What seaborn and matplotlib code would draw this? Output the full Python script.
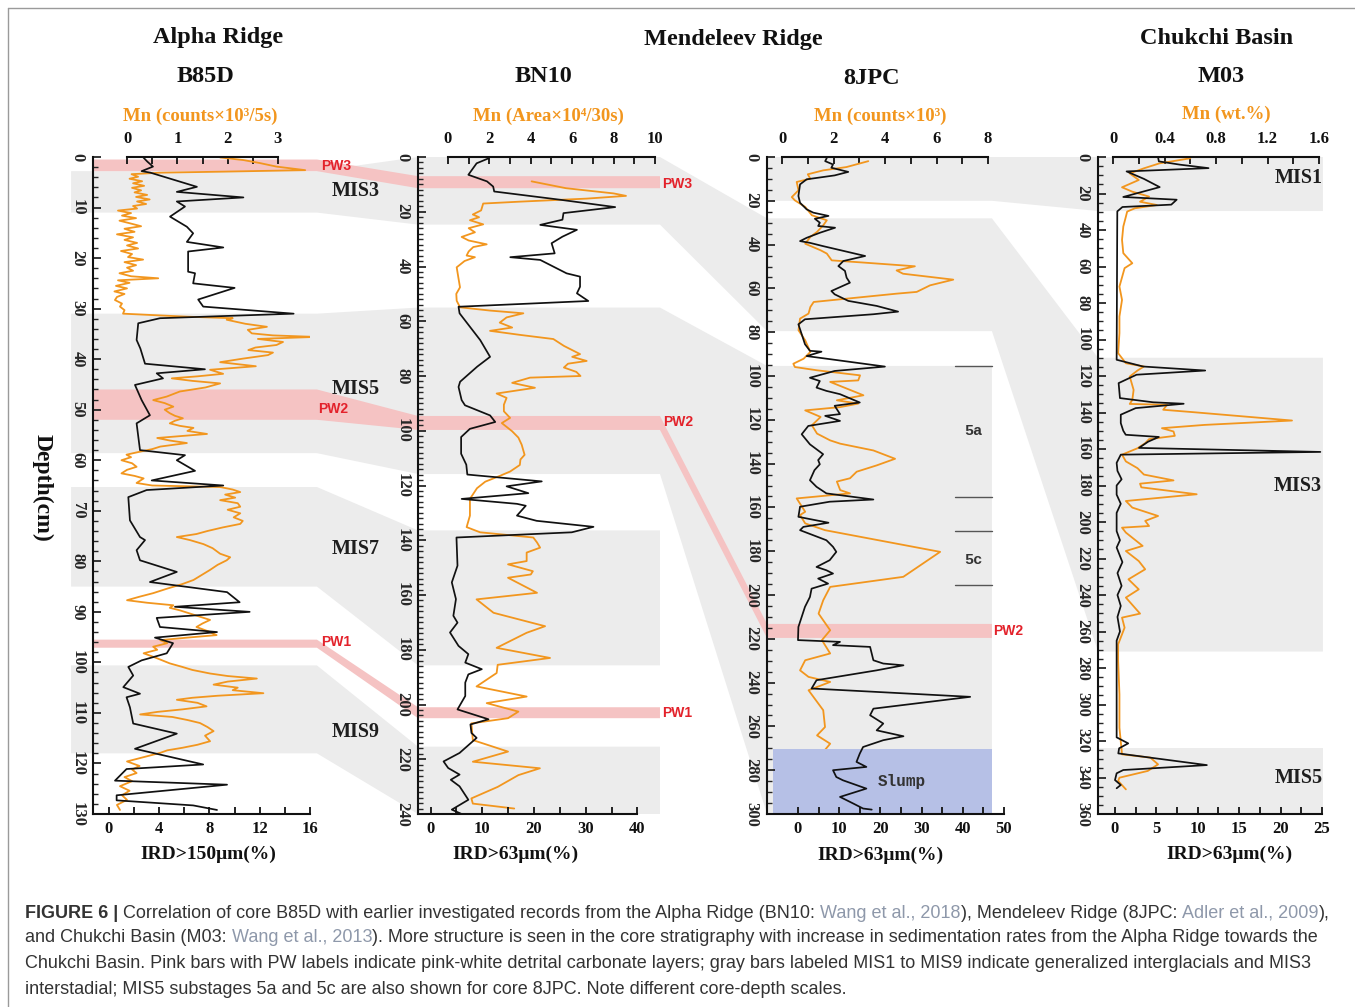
import numpy as np
import pandas as pd
import matplotlib
matplotlib.use("Agg")
import matplotlib.pyplot as plt
import matplotlib.transforms as mtransforms
from matplotlib.patches import Polygon
from matplotlib.ticker import FixedLocator, FuncFormatter
from matplotlib.font_manager import FontProperties, fontManager
import seaborn as sns

sns.set_style("ticks")
plt.rcParams["font.family"] = ["Liberation Serif", "DejaVu Serif"]
plt.rcParams["font.weight"] = "bold"
plt.rcParams["axes.unicode_minus"] = False

# ---------------------------------------------------------------- data
# B85D (Alpha Ridge)
b85d_ird_depth = [0, 0.9, 1.9, 2.8, 3.1, 5.9, 6.9, 8.0, 8.8, 9.8, 11.8, 13.8, 15.1, 16.8, 17.9,
                  18.7, 22.7, 23.0, 25.0, 25.9, 28.2, 29.6, 31.0, 31.9, 32.9, 36.2, 37.9, 40.9,
                  42.0, 42.8, 43.8, 45.1, 48.1, 51.1, 52.7, 58.0, 59.0, 60.0, 62.1, 64.0, 65.0,
                  65.9, 67.3, 71.9, 75.2, 75.8, 77.8, 79.8, 82.1, 84.1, 86.1, 88.1, 89.0, 90.0,
                  91.2, 93.0, 94.0, 95.1, 96.2, 98.2, 99.6, 100.9, 102.6, 104.9, 106.2, 106.9,
                  108.9, 112.1, 114.1, 117.1, 120.2, 121.1, 123.4, 124.2, 126.3, 127.3, 128.3, 129.2]
b85d_ird = [2.7, 3.05, 3.5, 2.6, 3.3, 7.0, 5.4, 10.7, 5.4, 6.05, 4.86, 6.2, 6.7, 6.2, 9.1,
            6.3, 6.3, 6.85, 6.7, 10.0, 7.1, 7.5, 14.7, 4.06, 2.33, 2.2, 2.5, 2.87,
            7.64, 3.8, 4.3, 2.07, 2.6, 3.26, 2.2, 2.47, 6.05, 5.4, 6.85, 3.4, 9.1,
            3.0, 1.54, 1.67, 2.47, 2.87, 2.2, 2.47, 5.4, 3.26, 9.4, 10.4, 5.25, 11.2,
            3.8, 4.06, 8.6, 3.66, 5.1, 4.6, 2.6, 1.54, 1.93, 1.14, 2.47, 1.4,
            1.67, 1.93, 5.4, 2.07, 7.5, 1.4, 0.48, 9.4, 0.61, 0.61, 6.7, 8.6]
b85d_mn_depth = [0.1, 0.6, 1.2, 1.9, 2.6, 2.9, 3.1, 3.4, 3.9, 4.3, 4.8, 5.2, 5.7, 6.1, 6.6, 7.0,
                 7.5, 7.9, 8.4, 8.8, 9.3, 9.7, 10.2, 10.6, 11.1, 11.6, 12.1, 12.6, 13.1, 13.7,
                 14.2, 14.8, 15.3, 15.9, 16.4, 17.0, 17.5, 18.1, 18.6, 19.2, 19.8, 20.3, 20.8,
                 21.4, 21.9, 22.5, 23.0, 23.6, 24.0, 24.4, 24.9, 25.5, 26.0, 26.6, 27.1, 27.7,
                 28.3, 29.0, 29.6, 30.3, 31.0, 31.6, 31.9, 32.2, 33.0, 33.6, 34.2, 34.9, 35.3,
                 35.6, 36.0, 36.6, 37.2, 37.7, 38.2, 38.7, 39.2, 39.9, 40.6, 41.0, 41.4, 42.1,
                 42.9, 43.4, 43.8, 44.3, 44.8, 45.6, 46.0, 46.4, 47.4, 48.1, 48.7, 49.4, 50.0,
                 50.7, 51.2, 51.7, 52.2, 52.7, 53.2, 53.6, 54.2, 54.8, 55.2, 55.6, 56.1, 56.6,
                 57.3, 57.8, 58.3, 58.9, 59.4, 60.0, 60.6, 61.3, 61.9, 62.6, 63.1, 63.6, 64.5,
                 65.0, 65.3, 65.8, 66.3, 66.8, 67.4, 67.9, 68.5, 69.2, 69.8, 70.5, 71.3, 72.0,
                 72.6, 73.3, 74.0, 74.6, 75.2, 75.8, 76.6, 77.4, 78.5, 79.2, 79.8, 80.7, 81.7,
                 82.6, 83.7, 84.5, 85.4, 86.3, 87.0, 87.7, 88.2, 88.7, 89.2, 89.7, 90.5, 91.0,
                 91.6, 92.3, 93.0, 93.8, 94.6, 95.1, 95.6, 96.2, 96.9, 97.5, 98.2, 99.0, 99.6,
                 100.2, 100.9, 101.5, 102.2, 102.7, 103.2, 103.8, 104.4, 105.0, 105.5, 106.1,
                 106.6, 107.0, 107.4, 108.0, 108.7, 109.3, 109.8, 110.3, 110.8, 111.4, 112.0,
                 112.8, 113.6, 114.5, 115.6, 116.3, 116.9, 117.4, 117.9, 118.7, 119.6, 120.5,
                 121.2, 121.9, 122.7, 123.5, 124.5, 125.4, 126.3, 127.2, 128.2, 129.2]
b85d_mn = [1.85, 2.31, 2.64, 2.97, 3.54, 1.9, 0.66, 0.09, 0.22, 0.05, 0.30, 0.12, 0.34, 0.10, 0.28, 0.15,
           0.40, 0.18, 0.45, 0.20, 0.38, 0.12, 0.20, -0.18, 0.08, -0.10, 0.18, -0.15, 0.05, 0.28,
           -0.05, 0.15, -0.20, 0.12, -0.05, 0.20, 0.00, 0.22, -0.12, 0.10, 0.02, 0.32, -0.05,
           0.18, 0.00, 0.12, -0.15, 0.08, 0.62, -0.18, 0.05, -0.22, 0.00, -0.25, -0.05, -0.20,
           -0.24, -0.10, -0.14, -0.05, -0.08, 1.2, 2.10, 1.98, 2.35, 2.78, 2.40, 2.48, 2.90,
           3.74, 2.60, 3.10, 2.97, 2.55, 2.41, 2.90, 2.80, 2.30, 1.85, 2.20, 2.56, 1.65,
           1.91, 1.40, 0.89, 1.30, 1.85, 1.56, 1.30, 1.05, 0.79, 0.52, 0.75, 0.92, 0.75,
           0.85, 0.95, 1.11, 0.95, 0.85, 1.05, 1.32, 1.20, 1.59, 1.10, 0.60, 0.85, 1.19,
           0.66, 0.50, 0.26, -0.01, 0.08, -0.11, 0.10, 0.19, 0.00, -0.11, 0.15, 0.33, 0.19,
           0.50, 1.85, 2.10, 2.25, 1.95, 2.15, 1.85, 2.20, 2.25, 2.00, 2.25, 2.12, 2.30,
           2.25, 1.90, 1.60, 1.38, 0.99, 1.25, 1.52, 1.70, 1.85, 2.05, 1.98, 1.80, 1.65,
           1.50, 1.32, 1.10, 0.80, 0.52, 0.25, 0.00, 0.40, 0.92, 0.85, 1.05, 1.30, 1.45,
           1.65, 1.50, 1.38, 1.60, 1.78, 1.20, 0.66, 0.80, 0.52, 0.60, 0.33, 0.55, 0.70,
           0.85, 1.10, 1.30, 1.65, 2.00, 2.58, 2.00, 1.72, 2.20, 2.10, 2.71,
           1.80, 1.30, 0.99, 1.40, 1.58, 1.10, 0.60, 0.26, 0.90, 1.20, 1.45,
           1.60, 1.72, 1.55, 1.65, 1.40, 1.10, 0.80, 0.66, 0.35, 0.00, 0.25,
           0.10, 0.19, -0.05, 0.10, -0.14, 0.05, -0.10, 0.00, -0.20, -0.14]

# BN10 (Alpha Ridge)
bn10_ird_depth = [0.5, 2.3, 6.5, 8.9, 10.8, 12.6, 15.6, 18.3, 20.5, 22.9, 24.8, 26.6, 29.1, 31.5,
                  35.2, 36.6, 37.6, 42.5, 43.7, 47.4, 49.8, 52.6, 54.7, 57.1, 62.0, 66.9, 73.0,
                  76.6, 82.1, 84.0, 88.8, 90.7, 94.4, 96.8, 99.3, 102.3, 108.4, 112.4, 116.0,
                  118.5, 120.3, 122.8, 124.9, 126.7, 127.4, 131.0, 132.9, 135.1, 137.1, 139.0,
                  149.3, 155.4, 161.5, 167.6, 170.1, 173.7, 178.6, 181.6, 184.7, 187.1, 189.0,
                  192.0, 196.9, 201.8, 205.4, 207.3, 210.4, 212.2, 217.7, 220.8, 223.2, 225.6,
                  227.5, 229.9, 234.8, 238.4, 240.0]
bn10_ird = [11.2, 8.9, 7.3, 10.9, 12.1, 12.3, 25.0, 35.7, 25.7, 25.5, 21.2, 28.3, 25.5, 23.4,
            24.0, 15.4, 21.2, 26.3, 28.9, 28.9, 28.3, 30.5, 5.4, 5.6, 7.6, 9.6, 11.5,
            9.0, 5.7, 5.4, 6.0, 6.65, 11.5, 12.5, 7.6, 5.9, 5.9, 6.9, 7.1,
            21.5, 14.7, 18.9, 6.0, 16.7, 18.4, 16.7, 20.5, 31.5, 27.3, 5.0,
            5.2, 4.1, 4.9, 4.4, 5.2, 3.75, 5.4, 7.3, 6.7, 9.9, 7.3,
            6.7, 6.7, 5.2, 11.2, 7.7, 7.9, 8.9, 5.6, 2.5, 3.4, 5.6,
            3.9, 5.6, 7.3, 4.1, 6.0]
bn10_mn_depth = [8.9, 11.4, 13.3, 14.2, 15.2, 16.3, 17.0, 19.5, 21.0, 22.0, 23.1, 24.6, 26.0, 27.5,
                 29.2, 30.5, 31.9, 32.9, 34.5, 36.0, 36.6, 38.0, 40.3, 44.0, 47.6, 50.0, 52.5,
                 54.9, 56.1, 57.1, 58.6, 60.5, 62.3, 63.5, 65.0, 66.5, 69.0, 72.0, 73.0, 74.5,
                 75.5, 76.9, 78.5, 80.0, 80.6, 82.5, 84.3, 86.4, 88.0, 90.5, 92.9, 95.3, 97.2,
                 100.2, 102.5, 105.1, 108.8, 110.5, 112.5, 114.9, 116.5, 118.6, 121.0, 124.9,
                 131.0, 135.2, 137.1, 139.0, 140.8, 142.7, 144.5, 147.6, 148.8, 151.3, 152.5,
                 153.7, 159.2, 161.6, 166.5, 171.4, 173.8, 179.3, 183.0, 185.5, 188.5, 193.4,
                 197.1, 199.5, 202.6, 205.0, 206.9, 213.0, 217.2, 220.9, 223.3, 225.8, 230.1,
                 234.3, 236.2, 238.0]
bn10_mn = [4.04, 5.7, 8.0, 8.6, 6.7, 3.5, 1.7, 1.6, 1.2, 1.5, 1.06, 1.7, 1.0, 1.3,
           0.66, 1.0, 1.87, 1.22, 1.0, 0.9, 1.3, 0.8, 0.42, 0.5, 0.58, 0.4, 0.42,
           0.58, 2.03, 3.64, 2.83, 2.5, 3.1, 2.03, 3.5, 5.09, 5.6, 6.38, 6.0, 6.7,
           5.8, 5.6, 6.2, 6.4, 3.96, 3.1, 4.2, 2.35, 2.83, 2.7, 2.7, 3.0, 2.6,
           3.1, 3.4, 3.56, 3.7, 3.5, 3.47, 3.0, 2.5, 1.8, 1.4, 1.06,
           1.06, 0.9, 1.55, 4.12, 4.3, 4.45, 3.8, 3.8, 2.9, 4.1, 4.0,
           2.9, 4.3, 1.38, 2.2, 4.69, 3.8, 2.35, 4.93, 2.4, 2.35, 1.38,
           3.8, 1.87, 3.4, 2.9, 1.13, 1.2, 2.9, 1.2, 4.44, 3.4, 2.4,
           1.13, 1.2, 3.2]

# 8JPC (Mendeleev Ridge)
jpc8_ird_depth = [0.4, 1.9, 3.4, 4.9, 6.8, 8.4, 10.2, 12.5, 17.8, 20.9, 23.9, 25.4, 26.9, 28.2,
                  30.0, 31.5, 32.3, 34.6, 36.9, 38.4, 39.2, 40.7, 45.2, 47.5, 49.8, 52.0, 55.1,
                  57.4, 61.2, 62.7, 65.7, 68.0, 70.6, 71.8, 74.1, 76.4, 80.9, 85.5, 88.5, 88.9,
                  90.9, 92.4, 95.7, 97.7, 100.8, 102.3, 105.3, 106.8, 108.3, 112.1, 113.6, 117.4,
                  118.2, 120.5, 122.8, 126.6, 131.2, 135.7, 138.4, 140.3, 143.0, 147.6, 150.6,
                  153.6, 156.4, 157.4, 159.7, 164.3, 167.0, 168.9, 170.4, 172.7, 175.0, 178.0,
                  180.3, 184.1, 187.2, 188.7, 190.2, 192.5, 194.8, 197.1, 200.9, 205.4, 210.0,
                  214.6, 220.6, 221.4, 222.9, 223.7, 229.8, 231.3, 232.1, 234.4, 238.9, 242.7,
                  246.5, 251.9, 254.9, 258.7, 261.8, 264.5, 266.3, 269.4, 272.4, 276.2, 278.5,
                  280.0, 283.1, 284.6, 288.4, 292.2, 295.2, 297.5, 298.0]
jpc8_ird = [7.0, 6.6, 8.5, 8.1, 12.2, 8.9, 2.1, 0.5, 0.1, 0.5, 2.1, 3.7, 7.4, 4.1,
            5.3, 4.9, 9.0, 5.3, 2.1, 0.5, 2.9, 6.1, 16.3, 11.0, 9.8, 11.4, 11.8,
            12.6, 8.1, 8.9, 12.2, 19.1, 24.3, 18.3, 1.7, 0.1, 0.9, 1.7, 2.9, 5.7,
            2.1, 8.1, 21.1, 8.9, 2.9, 5.3, 4.5, 6.9, 10.2, 15.0, 8.9, 10.2,
            6.6, 10.2, 2.5, 0.9, 2.9, 6.1, 4.9, 5.3, 4.0, 2.9, 4.5,
            6.9, 18.3, 7.7, 0.5, 0.1, 7.4, 1.3, 0.5, 3.7, 6.9, 8.5,
            9.3, 7.7, 4.5, 6.9, 8.5, 4.9, 7.3, 3.3, 2.9, 1.7, 0.9,
            0.1, 0.0, 10.2, 8.5, 17.5, 18.3, 20.7, 25.6, 19.1, 4.5, 3.3,
            41.8, 18.3, 17.5, 20.7, 19.1, 25.6, 20.7, 15.8, 15.0, 14.2, 16.6,
            8.5, 9.3, 10.9, 16.6, 10.2, 13.4, 15.8, 17.9]
jpc8_mn_depth = [1.9, 4.6, 6.1, 7.9, 9.9, 11.4, 15.2, 18.3, 19.8, 22.8, 26.6, 28.9, 31.2, 34.2,
                 36.5, 39.6, 42.6, 44.1, 47.2, 48.2, 49.9, 51.8, 53.3, 56.0, 58.6, 61.6, 62.4,
                 64.7, 66.2, 68.5, 71.5, 73.8, 79.1, 83.7, 89.0, 92.1, 94.4, 95.9, 97.4, 99.7,
                 102.0, 102.7, 108.8, 111.1, 112.6, 114.2, 115.7, 118.7, 122.5, 126.3, 129.4,
                 130.9, 134.0, 137.8, 140.8, 143.7, 146.7, 148.2, 152.1, 153.6, 155.9, 162.0,
                 163.5, 167.3, 170.4, 180.3, 191.7, 196.3, 202.4, 208.5, 216.1, 220.6, 226.7,
                 229.8, 234.4, 237.4, 239.7, 243.5, 252.6, 260.3, 264.1, 267.9, 272.4, 276.2,
                 280.0, 283.8, 292.2, 296.0]
jpc8_mn = [3.35, 2.5, 1.6, 1.0, 1.1, 0.57, 0.64, 0.38, 0.5, 0.9, 1.16, 1.74, 1.6, 1.36,
           1.1, 0.9, 1.5, 1.74, 1.93, 3.16, 5.16, 4.45, 4.7, 6.65, 5.75, 5.23, 4.45,
           2.5, 1.23, 1.1, 1.03, 0.7, 0.64, 0.9, 1.1, 0.84, 0.44, 0.5, 1.36, 3.03,
           2.96, 1.87, 3.16, 2.13, 2.96, 2.26, 0.9, 1.5, 1.16, 1.36, 1.87,
           2.26, 3.55, 4.39, 3.68, 2.9, 2.64, 2.13, 2.26, 2.64, 0.57, 0.9,
           0.7, 0.9, 1.67, 6.14, 4.71, 1.87, 1.6, 1.42, 1.87, 1.55, 1.87,
           0.9, 0.7, 1.03, 1.87, 1.03, 1.6, 1.67, 1.36, 1.87, 1.55, 3.68,
           2.26, 1.23, 1.55, 1.36]

# M03 (Chukchi Basin)
m03_ird_depth = [0.1, 2.4, 4.2, 6.1, 7.9, 12.0, 16.5, 21.9, 23.4, 26.1, 27.4, 29.8, 60.0, 111.1,
                 114.8, 117.0, 119.3, 123.9, 132.1, 134.4, 135.2, 137.6, 141.2, 145.8, 150.0,
                 152.2, 153.4, 156.0, 159.4, 161.6, 163.1, 167.6, 172.0, 176.6, 180.0, 185.0,
                 190.0, 195.0, 205.0, 210.0, 214.0, 222.0, 228.0, 235.0, 240.0, 246.0, 252.0,
                 260.0, 265.0, 318.0, 321.3, 324.0, 326.8, 333.2, 335.9, 337.7, 341.4, 344.1, 345.9]
m03_ird = [5.2, 5.3, 7.85, 11.3, 1.4, 3.5, 5.4, 1.0, 7.45, 6.8, 0.9, 0.28, 0.25, 0.2,
           3.4, 10.9, 2.6, 0.44, 0.6, 4.6, 8.3, 2.5, 0.7, 0.7, 1.0,
           1.3, 5.3, 4.0, 2.9, 24.8, 0.7, 0.2, 0.3, 0.8, 0.2, 0.2,
           0.7, 0.2, 0.2, 0.6, 0.2, 0.9, 0.3, 0.8, 0.3, 0.7, 0.3,
           0.6, 0.2, 0.2, 1.6, 0.5, 0.4, 11.1, 1.0, 0.2, 0.0, 0.7, 0.2]
m03_mn_depth = [0.7, 2.0, 3.5, 6.2, 9.0, 12.6, 16.6, 19.0, 21.7, 24.5, 26.3, 28.1, 29.9, 32.7,
                38.1, 45.4, 52.7, 58.2, 60.9, 71.0, 78.3, 87.4, 96.5, 107.5, 113.0, 114.8,
                117.0, 120.3, 127.6, 133.1, 135.3, 135.8, 138.5, 139.8, 144.4, 146.8, 148.6,
                150.4, 152.8, 154.6, 156.8, 159.6, 163.1, 166.8, 170.5, 174.0, 177.2, 179.0,
                181.0, 184.8, 188.5, 192.1, 196.7, 199.4, 202.2, 203.1, 205.8, 213.1, 215.9,
                221.4, 225.9, 231.4, 236.9, 241.4, 250.2, 252.4, 257.9, 267.0, 276.2, 294.4,
                312.7, 327.3, 329.1, 332.8, 336.4, 340.1, 341.9, 346.5]
m03_mn = [0.6, 0.49, 0.36, 0.24, 0.13, 0.2, 0.07, 0.15, 0.28, 0.21, 0.34, 0.17, 0.11, 0.1,
          0.08, 0.07, 0.08, 0.15, 0.09, 0.05, 0.07, 0.05, 0.05, 0.04, 0.1, 0.24,
          0.19, 0.13, 0.16, 0.15, 0.13, 0.42, 0.39, 0.62, 1.39, 0.71, 0.38,
          0.47, 0.48, 0.28, 0.25, 0.19, 0.07, 0.1, 0.19, 0.24, 0.47, 0.21,
          0.22, 0.65, 0.1, 0.15, 0.35, 0.25, 0.28, 0.07, 0.1, 0.23, 0.1,
          0.2, 0.25, 0.12, 0.2, 0.1, 0.21, 0.07, 0.09, 0.04, 0.04, 0.05,
          0.05, 0.07, 0.29, 0.35, 0.27, 0.05, 0.04, 0.1]

# Correlated intervals (top, bottom depth in cm) per core: B85D, BN10, 8JPC, M03
mis1_chain = [None, None, (0.0, 20.0), (0.0, 29.6)]
mis3_chain = [(2.8, 11.0), (0.0, 24.7), (28.0, 79.5), (110.0, 271.0)]
mis5_chain = [(31.0, 58.6), (55.0, 115.8), (95.4, 300.0), None]
mis5_m03 = [None, None, None, (324.0, 360.0)]
mis7_chain = [(65.3, 85.0), (136.4, 185.7), None, None]
mis9_chain = [(100.6, 118.0), (215.4, 240.0), None, None]
pw3_chain = [(0.5, 2.8), (7.0, 11.4), None, None]
pw2_chain = [(46.0, 52.0), (94.6, 99.7), (213.2, 219.6), None]
pw1_chain = [(95.5, 97.1), (201.0, 205.0), None, None]

# 8JPC substage boundaries and slump interval
jpc8_substage_bounds = [95.4, 155.3, 170.7, 195.4]
jpc8_substage_labels = ["5a", "5c"]
jpc8_substage_label_depth = [125.0, 184.0]
jpc8_slump = (270.4, 300.0)

# ---------------------------------------------------------------- layout
W, H = 1355, 1007
BLACK = "#111111"
ORANGE = "#f2961e"
GRAY_BAND = "#ececec"
PINK_BAND = "#f5c3c3"
SLUMP = "#b6c0e6"
RED = "#e3222b"

fig = plt.figure(figsize=(W / 100, H / 100), dpi=100)
bg = fig.add_axes([0, 0, 1, 1], zorder=0)
bg.set_xlim(0, W)
bg.set_ylim(H, 0)
bg.axis("off")

TOP_PX, BOT_PX = 157, 814
TICK_FS = 12

panel_specs = [
    dict(box=(93, 310), ird=(-1.27, 16.0), ird_end=16, ird_major=4, ird_minor=2,
         mn=(-0.676, 3.636), mn_end=3, mn_major=1, mn_minor=0.5,
         depth=130, d_major=10, d_minor=2),
    dict(box=(418, 655), ird=(-2.44, 43.4), ird_end=40, ird_major=10, ird_minor=5,
         mn=(-1.449, 10.0), mn_end=10, mn_major=2, mn_minor=1,
         depth=240, d_major=20, d_minor=2),
    dict(box=(767, 1004), ird=(-7.52, 50.0), ird_end=50, ird_major=10, ird_minor=5,
         mn=(-0.583, 8.62), mn_end=8, mn_major=2, mn_minor=1,
         depth=300, d_major=20, d_minor=5),
    dict(box=(1098, 1322), ird=(-2.05, 25.0), ird_end=25, ird_major=5, ird_minor=2.5,
         mn=(-0.1165, 1.623), mn_end=1.6, mn_major=0.4, mn_minor=0.2,
         depth=360, d_major=20, d_minor=5),
]

series = [
    (b85d_ird_depth, b85d_ird, b85d_mn_depth, b85d_mn),
    (bn10_ird_depth, bn10_ird, bn10_mn_depth, bn10_mn),
    (jpc8_ird_depth, jpc8_ird, jpc8_mn_depth, jpc8_mn),
    (m03_ird_depth, m03_ird, m03_mn_depth, m03_mn),
]

fmt = FuncFormatter(lambda v, p: f"{v:g}")
axes, twins = [], []
for spec, (d_i, v_i, d_m, v_m) in zip(panel_specs, series):
    x0, x1 = spec["box"]
    ax = fig.add_axes([x0 / W, 1 - BOT_PX / H, (x1 - x0) / W, (BOT_PX - TOP_PX) / H], zorder=3)
    ax.patch.set_visible(False)
    tw = ax.twiny()
    tw.set_zorder(2)

    sns.lineplot(data=pd.DataFrame({"depth": d_m, "mn": v_m}), x="mn", y="depth",
                 sort=False, estimator=None, ax=tw, color=ORANGE, lw=1.3)
    sns.lineplot(data=pd.DataFrame({"depth": d_i, "ird": v_i}), x="ird", y="depth",
                 sort=False, estimator=None, ax=ax, color=BLACK, lw=1.25)

    ax.set_xlim(*spec["ird"])
    tw.set_xlim(*spec["mn"])
    ax.set_ylim(spec["depth"], 0)
    for a in (ax, tw):
        a.set_xlabel("")
        a.set_ylabel("")

    # spines
    for s in ("top", "right"):
        ax.spines[s].set_visible(False)
    for s in ("bottom", "left", "right"):
        tw.spines[s].set_visible(False)
    ax.spines["bottom"].set_bounds(spec["ird"][0], spec["ird_end"])
    tw.spines["top"].set_bounds(0, spec["mn_end"])
    for sp in (ax.spines["left"], ax.spines["bottom"], tw.spines["top"]):
        sp.set_linewidth(1.5)
        sp.set_color("#111111")

    # ticks
    ax.xaxis.set_major_locator(FixedLocator(np.arange(0, spec["ird_end"] + 1e-6, spec["ird_major"])))
    ax.xaxis.set_minor_locator(FixedLocator(np.arange(0, spec["ird_end"] + 1e-6, spec["ird_minor"])))
    tw.xaxis.set_major_locator(FixedLocator(np.arange(0, spec["mn_end"] + 1e-6, spec["mn_major"])))
    tw.xaxis.set_minor_locator(FixedLocator(np.arange(0, spec["mn_end"] + 1e-6, spec["mn_minor"])))
    ax.yaxis.set_major_locator(FixedLocator(np.arange(0, spec["depth"] + 1e-6, spec["d_major"])))
    ax.yaxis.set_minor_locator(FixedLocator(np.arange(0, spec["depth"] + 1e-6, spec["d_minor"])))
    ax.xaxis.set_major_formatter(fmt)
    tw.xaxis.set_major_formatter(fmt)
    ax.yaxis.set_major_formatter(fmt)

    ax.tick_params(axis="x", which="both", direction="in", length=5, width=1.3,
                   labelsize=TICK_FS, pad=5, colors="#111111")
    tw.tick_params(axis="x", which="both", direction="in", length=5, width=1.3,
                   labelsize=TICK_FS, pad=7, top=True, bottom=False, labeltop=True,
                   labelbottom=False, colors="#111111")
    ax.tick_params(axis="y", which="major", direction="in", length=6, width=1.3,
                   labelsize=TICK_FS, pad=11, right=False)
    ax.tick_params(axis="y", which="minor", direction="in", length=3.5, width=1.0, right=False)
    tw.tick_params(axis="y", which="both", left=False, right=False, labelleft=False, labelright=False)
    for lab in ax.get_yticklabels():
        lab.set_rotation(-90)
        lab.set_ha("center")
        lab.set_va("center")
    for lab in ax.get_xticklabels() + tw.get_xticklabels():
        lab.set_fontweight("bold")
    axes.append(ax)
    twins.append(tw)


# ---------------------------------------------------------------- interval bands
def to_bg(ax, fx, depth):
    trans = mtransforms.blended_transform_factory(ax.transAxes, ax.transData)
    return bg.transData.inverted().transform(trans.transform((fx, depth)))


gray_ext = [(-0.101, 1.032), (0.0, 1.021), (0.0, 0.949), (0.0, 1.004)]
pink_ext = [(0.0, 1.032), (0.0, 1.021), (0.0, 0.949), None]


def draw_chain(chain, ext, color, z):
    top, bot = [], []
    for i, seg in enumerate(chain):
        if seg is None:
            continue
        t, b = seg
        l, r = ext[i]
        top += [to_bg(axes[i], l, t), to_bg(axes[i], r, t)]
        bot += [to_bg(axes[i], l, b), to_bg(axes[i], r, b)]
    poly = np.array(top + bot[::-1])
    bg.add_patch(Polygon(poly, closed=True, facecolor=color, edgecolor="none", zorder=z))


for ch in (mis1_chain, mis3_chain, mis5_chain, mis5_m03, mis7_chain, mis9_chain):
    draw_chain(ch, gray_ext, GRAY_BAND, 1)
for ch in (pw3_chain, pw2_chain, pw1_chain):
    draw_chain(ch, pink_ext, PINK_BAND, 2)

# 8JPC slump and substage marks
ax3 = axes[2]
blend3 = mtransforms.blended_transform_factory(ax3.transAxes, ax3.transData)
ax3.axhspan(jpc8_slump[0], jpc8_slump[1], xmin=0.025, xmax=0.949, color=SLUMP, zorder=0.5, lw=0)
for d in jpc8_substage_bounds:
    ax3.axhline(d, xmin=0.793, xmax=0.949, color="#555555", lw=1.0)
for lab, d in zip(jpc8_substage_labels, jpc8_substage_label_depth):
    ax3.text(0.87, d, lab, transform=blend3, ha="center", va="center", fontsize=11,
             family=["Liberation Mono", "DejaVu Sans Mono"], fontweight="bold", color="#333333")
ax3.text(0.57, 285, "Slump", transform=blend3, ha="center", va="center", fontsize=11.5,
         family=["Liberation Mono", "DejaVu Sans Mono"], fontweight="bold", color="#333333")

# ---------------------------------------------------------------- labels
def label(x, y, s, **kw):
    kw.setdefault("ha", "center")
    kw.setdefault("va", "center")
    bg.text(x, y, s, **kw)


for x, y, s in [(218, 37, "Alpha Ridge"), (733, 39, "Mendeleev Ridge"), (1217, 39, "Chukchi Basin"),
                (205, 77, "B85D"), (543, 77, "BN10"), (872, 79, "8JPC"), (1221, 77, "M03")]:
    label(x, y, s, fontsize=17.5, fontweight="bold", color="#111111")

for x, y, s in [(200, 116, "Mn (counts×10³/5s)"), (548, 116, "Mn (Area×10⁴/30s)"),
                (880, 116, "Mn (counts×10³)"), (1226, 114, "Mn (wt.%)")]:
    label(x, y, s, fontsize=13.5, fontweight="bold", color=ORANGE)

for x, y, s in [(208, 854, "IRD>150μm(%)"), (515, 854, "IRD>63μm(%)"),
                (880, 855, "IRD>63μm(%)"), (1229, 854, "IRD>63μm(%)")]:
    label(x, y, s, fontsize=14, fontweight="bold", color="#111111")

label(42, 488, "Depth(cm)", fontsize=17, fontweight="bold", rotation=-90, color="#111111")

for x, y, s in [(356, 191, "MIS3"), (356, 389, "MIS5"), (356, 549, "MIS7"), (356, 732, "MIS9"),
                (1299, 178, "MIS1"), (1298, 486, "MIS3"), (1299, 778, "MIS5")]:
    label(x, y, s, fontsize=14.5, fontweight="bold", color="#1e1e1e")

for x, y, s in [(336, 166, "PW3"), (333, 409, "PW2"), (336, 642, "PW1"),
                (677, 184, "PW3"), (678, 422, "PW2"), (677, 713, "PW1"), (1008, 631, "PW2")]:
    label(x, y, s, fontsize=10, fontweight="bold", color=RED,
          family=["Liberation Sans", "DejaVu Sans"])

# frame
bg.plot([8, 8], [8, H], color="#9a9a9a", lw=1.0)
bg.plot([8, W], [8, 8], color="#9a9a9a", lw=1.0)

# ---------------------------------------------------------------- caption
names = {f.name for f in fontManager.ttflist}
cap_family = "Liberation Sans Narrow" if "Liberation Sans Narrow" in names else "Liberation Sans"
renderer = fig.canvas.get_renderer()
LINK = "#8e98aa"
TXT = "#333333"

cap_lines = [
    [("FIGURE 6 |", "bold", TXT),
     (" Correlation of core B85D with earlier investigated records from the Alpha Ridge (BN10: ", "normal", TXT),
     ("Wang et al., 2018", "normal", LINK), ("), Mendeleev Ridge (8JPC: ", "normal", TXT),
     ("Adler et al., 2009", "normal", LINK), ("),", "normal", TXT)],
    [("and Chukchi Basin (M03: ", "normal", TXT), ("Wang et al., 2013", "normal", LINK),
     ("). More structure is seen in the core stratigraphy with increase in sedimentation rates from the Alpha Ridge towards the",
      "normal", TXT)],
    [("Chukchi Basin. Pink bars with PW labels indicate pink-white detrital carbonate layers; gray bars labeled MIS1 to MIS9 indicate generalized interglacials and MIS3",
      "normal", TXT)],
    [("interstadial; MIS5 substages 5a and 5c are also shown for core 8JPC. Note different core-depth scales.",
      "normal", TXT)],
]


def text_width(s, size, weight):
    fp = FontProperties(family=cap_family, size=size, weight=weight)
    w1, _, _ = renderer.get_text_width_height_descent(s + "|", fp, ismath=False)
    w2, _, _ = renderer.get_text_width_height_descent("|", fp, ismath=False)
    return w1 - w2


ref_w = sum(text_width(s, 10, wt) for s, wt, _ in cap_lines[0])
cap_size = 10 * 1305 / ref_w

for line, y in zip(cap_lines, [913, 938, 964, 989]):
    x = 25
    for s, wt, col in line:
        bg.text(x, y, s, ha="left", va="center", fontsize=cap_size, fontweight=wt,
                color=col, family=cap_family)
        x += text_width(s, cap_size, wt)

fig.savefig("out.png", dpi=100)
